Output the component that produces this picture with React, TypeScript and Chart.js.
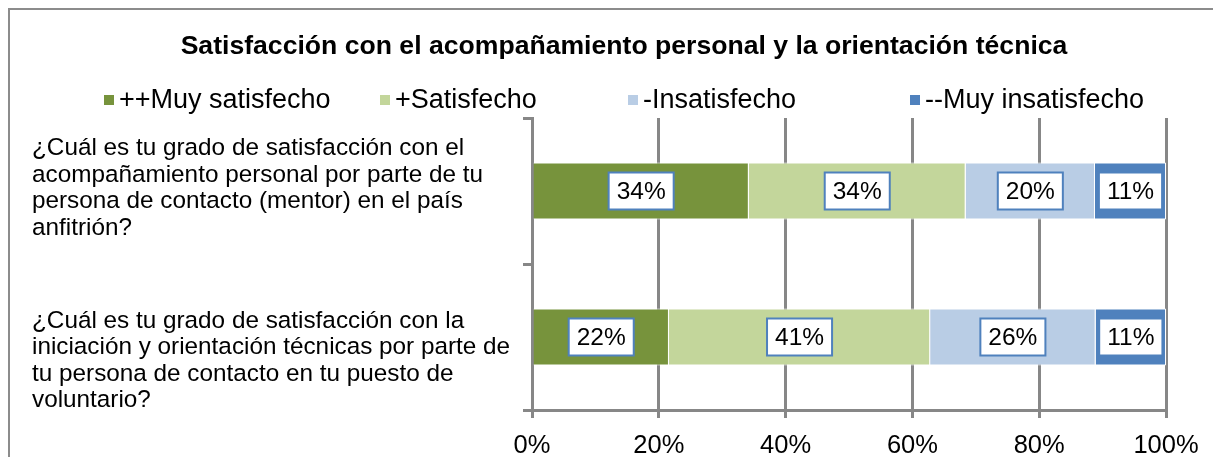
import React, { useEffect, useRef } from 'react';
import { Chart, registerables } from 'chart.js';
Chart.register(...registerables);

const TITLE = 'Satisfacción con el acompañamiento personal y la orientación técnica';
const CATEGORIES: string[][] = [
  ['¿Cuál es tu grado de satisfacción con el', 'acompañamiento personal por parte de tu', 'persona de contacto (mentor) en el país', 'anfitrión?'],
  ['¿Cuál es tu grado de satisfacción con la', 'iniciación y orientación técnicas por parte de', 'tu persona de contacto en tu puesto de', 'voluntario?'],
];
const SERIES_NAMES = ['++Muy satisfecho', '+Satisfecho', '-Insatisfecho', '--Muy insatisfecho'];
const MUY_SATISFECHO = [34.2, 21.6];
const SATISFECHO = [34.2, 41.2];
const INSATISFECHO = [20.4, 26.1];
const MUY_INSATISFECHO = [11.2, 11.1];
const X_MIN = 0;
const X_MAX = 100;
const X_STEP = 20;
const COLORS = ['#77933c', '#c3d69b', '#b9cde5', '#4f81bd'];

const FONT = '"Liberation Sans", Arial, sans-serif';
const GRID = '#878787';

const decorPlugin = {
  id: 'decor',
  beforeDraw(chart: any) {
    const ctx = chart.ctx;
    ctx.save();
    ctx.fillStyle = '#ffffff';
    ctx.fillRect(0, 0, chart.width, chart.height);
    ctx.strokeStyle = '#8c8c8c';
    ctx.lineWidth = 2;
    ctx.strokeRect(9, 9, chart.width + 40, chart.height + 40);
    // title
    ctx.fillStyle = '#000';
    ctx.font = `bold 26.6px ${FONT}`;
    ctx.textAlign = 'center';
    ctx.textBaseline = 'middle';
    ctx.fillText(TITLE, 624, 47);
    // legend
    const legendX = [104, 380, 628, 910];
    ctx.font = `27px ${FONT}`;
    ctx.textAlign = 'left';
    SERIES_NAMES.forEach((name, i) => {
      ctx.fillStyle = COLORS[i];
      ctx.fillRect(legendX[i], 95, 10, 10);
      ctx.fillStyle = '#000';
      ctx.fillText(name, legendX[i] + 15, 101);
    });
    // category labels
    const yScale = chart.scales.y;
    const offsets = [-42.5, -16];
    const lh = 26.6;
    ctx.font = `24.3px ${FONT}`;
    ctx.textAlign = 'left';
    CATEGORIES.forEach((lines, i) => {
      const cy = yScale.getPixelForValue(i);
      lines.forEach((ln, j) => {
        ctx.fillText(ln, 32, cy + offsets[i] + j * lh);
      });
    });
    ctx.restore();
  },
  afterDatasetsDraw(chart: any) {
    const ctx = chart.ctx;
    ctx.save();
    ctx.font = `24.5px ${FONT}`;
    ctx.textAlign = 'center';
    ctx.textBaseline = 'middle';
    chart.data.datasets.forEach((ds: any, di: number) => {
      const meta = chart.getDatasetMeta(di);
      meta.data.forEach((el: any, idx: number) => {
        const p = el.getProps(['x', 'y', 'base'], true);
        const cx = (p.x + p.base) / 2;
        const text = Math.round(ds.data[idx]) + '%';
        const w = ctx.measureText(text).width + 16;
        const h = 37;
        ctx.fillStyle = '#ffffff';
        ctx.fillRect(cx - w / 2, p.y - h / 2, w, h);
        ctx.strokeStyle = '#4f81bd';
        ctx.lineWidth = 2;
        ctx.strokeRect(cx - w / 2, p.y - h / 2, w, h);
        ctx.fillStyle = '#000';
        ctx.fillText(text, cx, p.y + 1);
      });
    });
    ctx.restore();
  },
};

export default function App() {
  const ref = useRef<HTMLCanvasElement | null>(null);
  useEffect(() => {
    document.body.style.margin = '0';
    const canvas = ref.current!;
    const labels = CATEGORIES.map((c) => c.join(' '));
    const seriesData = [MUY_SATISFECHO, SATISFECHO, INSATISFECHO, MUY_INSATISFECHO];
    const chart = new Chart(canvas, {
      type: 'bar',
      data: {
        labels,
        datasets: seriesData.map((d, i) => ({
          label: SERIES_NAMES[i],
          data: d,
          backgroundColor: COLORS[i],
          borderColor: '#ffffff',
          borderWidth: 1,
          barPercentage: 0.39,
          categoryPercentage: 1,
        })),
      },
      options: {
        indexAxis: 'y',
        responsive: false,
        devicePixelRatio: 1,
        animation: false,
        layout: { padding: { top: 118, right: 47, left: 0, bottom: 0 } },
        plugins: {
          legend: { display: false },
          title: { display: false },
          tooltip: { enabled: false },
        },
        scales: {
          x: {
            stacked: true,
            min: X_MIN,
            max: X_MAX,
            ticks: {
              stepSize: X_STEP,
              callback: (v: any) => v + '%',
              color: '#000',
              font: { family: FONT, size: 25.5 },
              padding: 13,
              maxRotation: 0,
            },
            grid: { color: GRID, lineWidth: 3, tickLength: 8, drawOnChartArea: true },
            border: { display: true, color: GRID, width: 3 },
            afterFit: (s: any) => { s.height = 47; },
          },
          y: {
            stacked: true,
            ticks: { display: false },
            grid: { color: GRID, lineWidth: 3, tickLength: 9, drawOnChartArea: false, offset: true },
            border: { display: true, color: GRID, width: 3 },
            afterFit: (s: any) => { s.width = 532; },
          },
        },
      },
      plugins: [decorPlugin],
    } as any);
    return () => chart.destroy();
  }, []);
  return <canvas ref={ref} width={1213} height={457} style={{ display: 'block' }} />;
}
